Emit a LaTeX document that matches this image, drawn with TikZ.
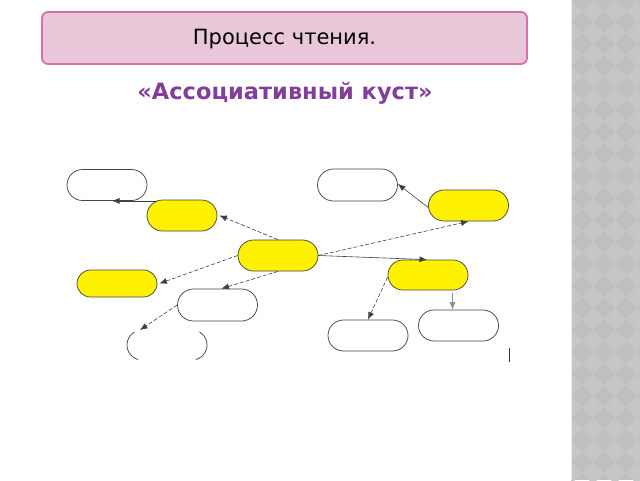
\documentclass[tikz,border=0pt]{standalone}
\usepackage{fontspec}
\setmainfont{DejaVu Sans}
\usetikzlibrary{arrows.meta,shapes.misc}
\definecolor{pinkfill}{RGB}{232,200,216}
\definecolor{pinkline}{RGB}{212,112,170}
\definecolor{purp}{RGB}{130,62,152}
\definecolor{stripbase}{RGB}{191,191,191}
\definecolor{stripdia}{RGB}{198,198,198}
\definecolor{boxline}{RGB}{70,70,70}
\tikzset{
  pill/.style={rounded rectangle, draw=boxline, line width=0.75pt, minimum width=80pt, minimum height=31pt, inner sep=0pt},
  wpill/.style={pill, fill=white},
  ypill/.style={pill, fill=yellow},
  arr/.style={-{Latex[length=7.5pt,width=6pt]}, line width=0.6pt, draw=black!75},
  darr/.style={arr, dash pattern=on 4pt off 2pt},
}
\begin{document}
\begin{tikzpicture}[x=1pt,y=-1pt]
\useasboundingbox (0,0) rectangle (640,480);
\fill[white] (0,0) rectangle (640,480);
% side strip
\fill[stripbase] (571,0) rectangle (640,480);
\begin{scope}
\clip (571,0) rectangle (640,480);
\foreach \i in {0,...,3}{
  \foreach \j in {0,...,22}{
    \fill[stripdia] ({571+22*\i},{22*\j}) -- ++(11,11) -- ++(-11,11) -- ++(-11,-11) -- cycle;
  }
}
\end{scope}
\draw[white!85!gray, line width=1pt] (571.5,0) -- (571.5,480);
% title
\node[draw=pinkline, line width=1.8pt, fill=pinkfill, rounded corners=6pt,
  minimum width=485pt, minimum height=52pt, inner sep=0pt] (title) at (284.5,38) {};
\node[font=\fontsize{21}{24}\selectfont] (titletext) at (284.5,39) {Процесс чтения.};
\node[font=\bfseries\fontsize{22.5}{26}\selectfont, text=purp] (sub) at (285,93) {«Ассоциативный куст»};
% boxes
\node[wpill] (b1) at (107,185) {};
\node[ypill, minimum width=70pt] (b2) at (182,215.5) {};
\node[ypill] (b3) at (278,255.5) {};
\node[ypill, minimum height=27pt] (b4) at (117,283.5) {};
\node[wpill, minimum height=32pt] (b5) at (217.5,305) {};
\node[wpill, minimum height=32pt] (b7) at (357.5,185) {};
\node[ypill] (b8) at (468.5,205.5) {};
\node[ypill, minimum height=30pt] (b9) at (428,275) {};
\node[wpill] (b10) at (458.5,325.5) {};
\node[wpill] (b11) at (368,335.5) {};
% partial box (cut off)
\coordinate (b6) at (140,330);
\draw[boxline, line width=0.75pt] (142,345) ++(105:15) arc[start angle=105, end angle=240, radius=15];
\draw[boxline, line width=0.75pt] (192,345) ++(75:15) arc[start angle=75, end angle=-60, radius=15];
% small mark
\coordinate (m1) at (509,348);
\coordinate (m2) at (509,362);
\draw[black!80, line width=0.8pt] (m1) -- (m2);
% connectors
\draw[arr] ([xshift=50pt]b1.south) -- ([xshift=5pt]b1.south);
\draw[darr] (b3.north) -- ([xshift=2pt]b2.east);
\draw[darr] (b3.west) -- ([xshift=2pt]b4.east);
\draw[darr] (b3.south) -- ([xshift=4pt]b5.north);
\draw[darr] (b5.west) -- (b6);
\draw[darr] (b3.east) -- (b8.south);
\draw[arr] (b3.east) -- ([xshift=-1pt]b9.north);
\draw[arr] ([yshift=-2pt]b8.west) -- ([yshift=1pt]b7.east);
\draw[darr] ([yshift=-2pt]b9.west) -- (b11.north);
\draw[arr, draw=black!45] ([xshift=-0.5pt,yshift=-3pt]b9.south east) -- ([xshift=-0.5pt]b9.south east |- b10.north);
\end{tikzpicture}
\end{document}
